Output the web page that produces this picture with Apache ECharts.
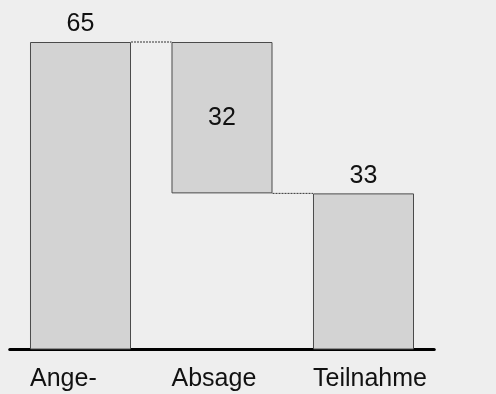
<!DOCTYPE html>
<html>
<head>
<meta charset="utf-8">
<script src="https://cdn.jsdelivr.net/npm/echarts@6/dist/echarts.min.js"></script>
<style>
  html, body { margin: 0; padding: 0; background: #eeeeee; }
  #chart { width: 496px; height: 394px; }
</style>
</head>
<body>
<div id="chart"></div>
<script>
// Waterfall: total, drop, remainder
const categories = ['Ange-', 'Absage', 'Teilnahme'];
const baseValues = [0, 33, 0];     // invisible offset under each bar
const barValues = [65, 32, 33];    // visible bar heights
const labelPositions = ['top', 'inside', 'top'];
// level of the dotted connector between bar i and bar i+1
const connectorLevels = [65, 33];

const BAR_RATIO = 0.714;
const FONT = 'Liberation Sans, Arial, sans-serif';
const chart = echarts.init(document.getElementById('chart'));

chart.setOption({
  backgroundColor: '#eeeeee',
  animation: false,
  grid: { left: 9.75, right: 61.75, top: 42, bottom: 44.5 },
  xAxis: {
    type: 'category',
    data: categories,
    axisLine: { show: true, lineStyle: { color: '#000', width: 3 } },
    axisTick: { show: false },
    axisLabel: {
      interval: 0,
      margin: 17,
      color: '#111',
      fontFamily: FONT,
      fontSize: 25,
      formatter: v => '{a|' + v + '}',
      rich: { a: { width: 101, align: 'left', fontSize: 25, color: '#111', fontFamily: FONT } }
    }
  },
  yAxis: { type: 'value', min: 0, max: 65, show: false, splitLine: { show: false } },
  series: [
    {
      type: 'bar', stack: 'w', barWidth: (BAR_RATIO * 100) + '%',
      itemStyle: { color: 'transparent', borderWidth: 0 },
      emphasis: { disabled: true },
      data: baseValues
    },
    {
      type: 'bar', stack: 'w', barWidth: (BAR_RATIO * 100) + '%',
      itemStyle: { color: '#d3d3d3', borderColor: '#4a4a4a', borderWidth: 1 },
      label: { show: true, distance: 5, color: '#111', fontSize: 25, fontFamily: FONT },
      data: barValues.map((v, i) => ({ value: v, label: { position: labelPositions[i] } }))
    },
    {
      type: 'custom',
      silent: true,
      data: connectorLevels.map((lv, i) => [i, lv]),
      renderItem: (params, api) => {
        const i = api.value(0);
        const lv = api.value(1);
        const half = api.size([1, 0])[0] * BAR_RATIO / 2;
        const p1 = api.coord([i, lv]);
        const p2 = api.coord([i + 1, lv]);
        return {
          type: 'line',
          shape: { x1: p1[0] + half, y1: p1[1], x2: p2[0] - half, y2: p2[1] },
          style: { stroke: '#333', lineWidth: 1, lineDash: [2, 1] }
        };
      }
    }
  ]
});
</script>
</body>
</html>
